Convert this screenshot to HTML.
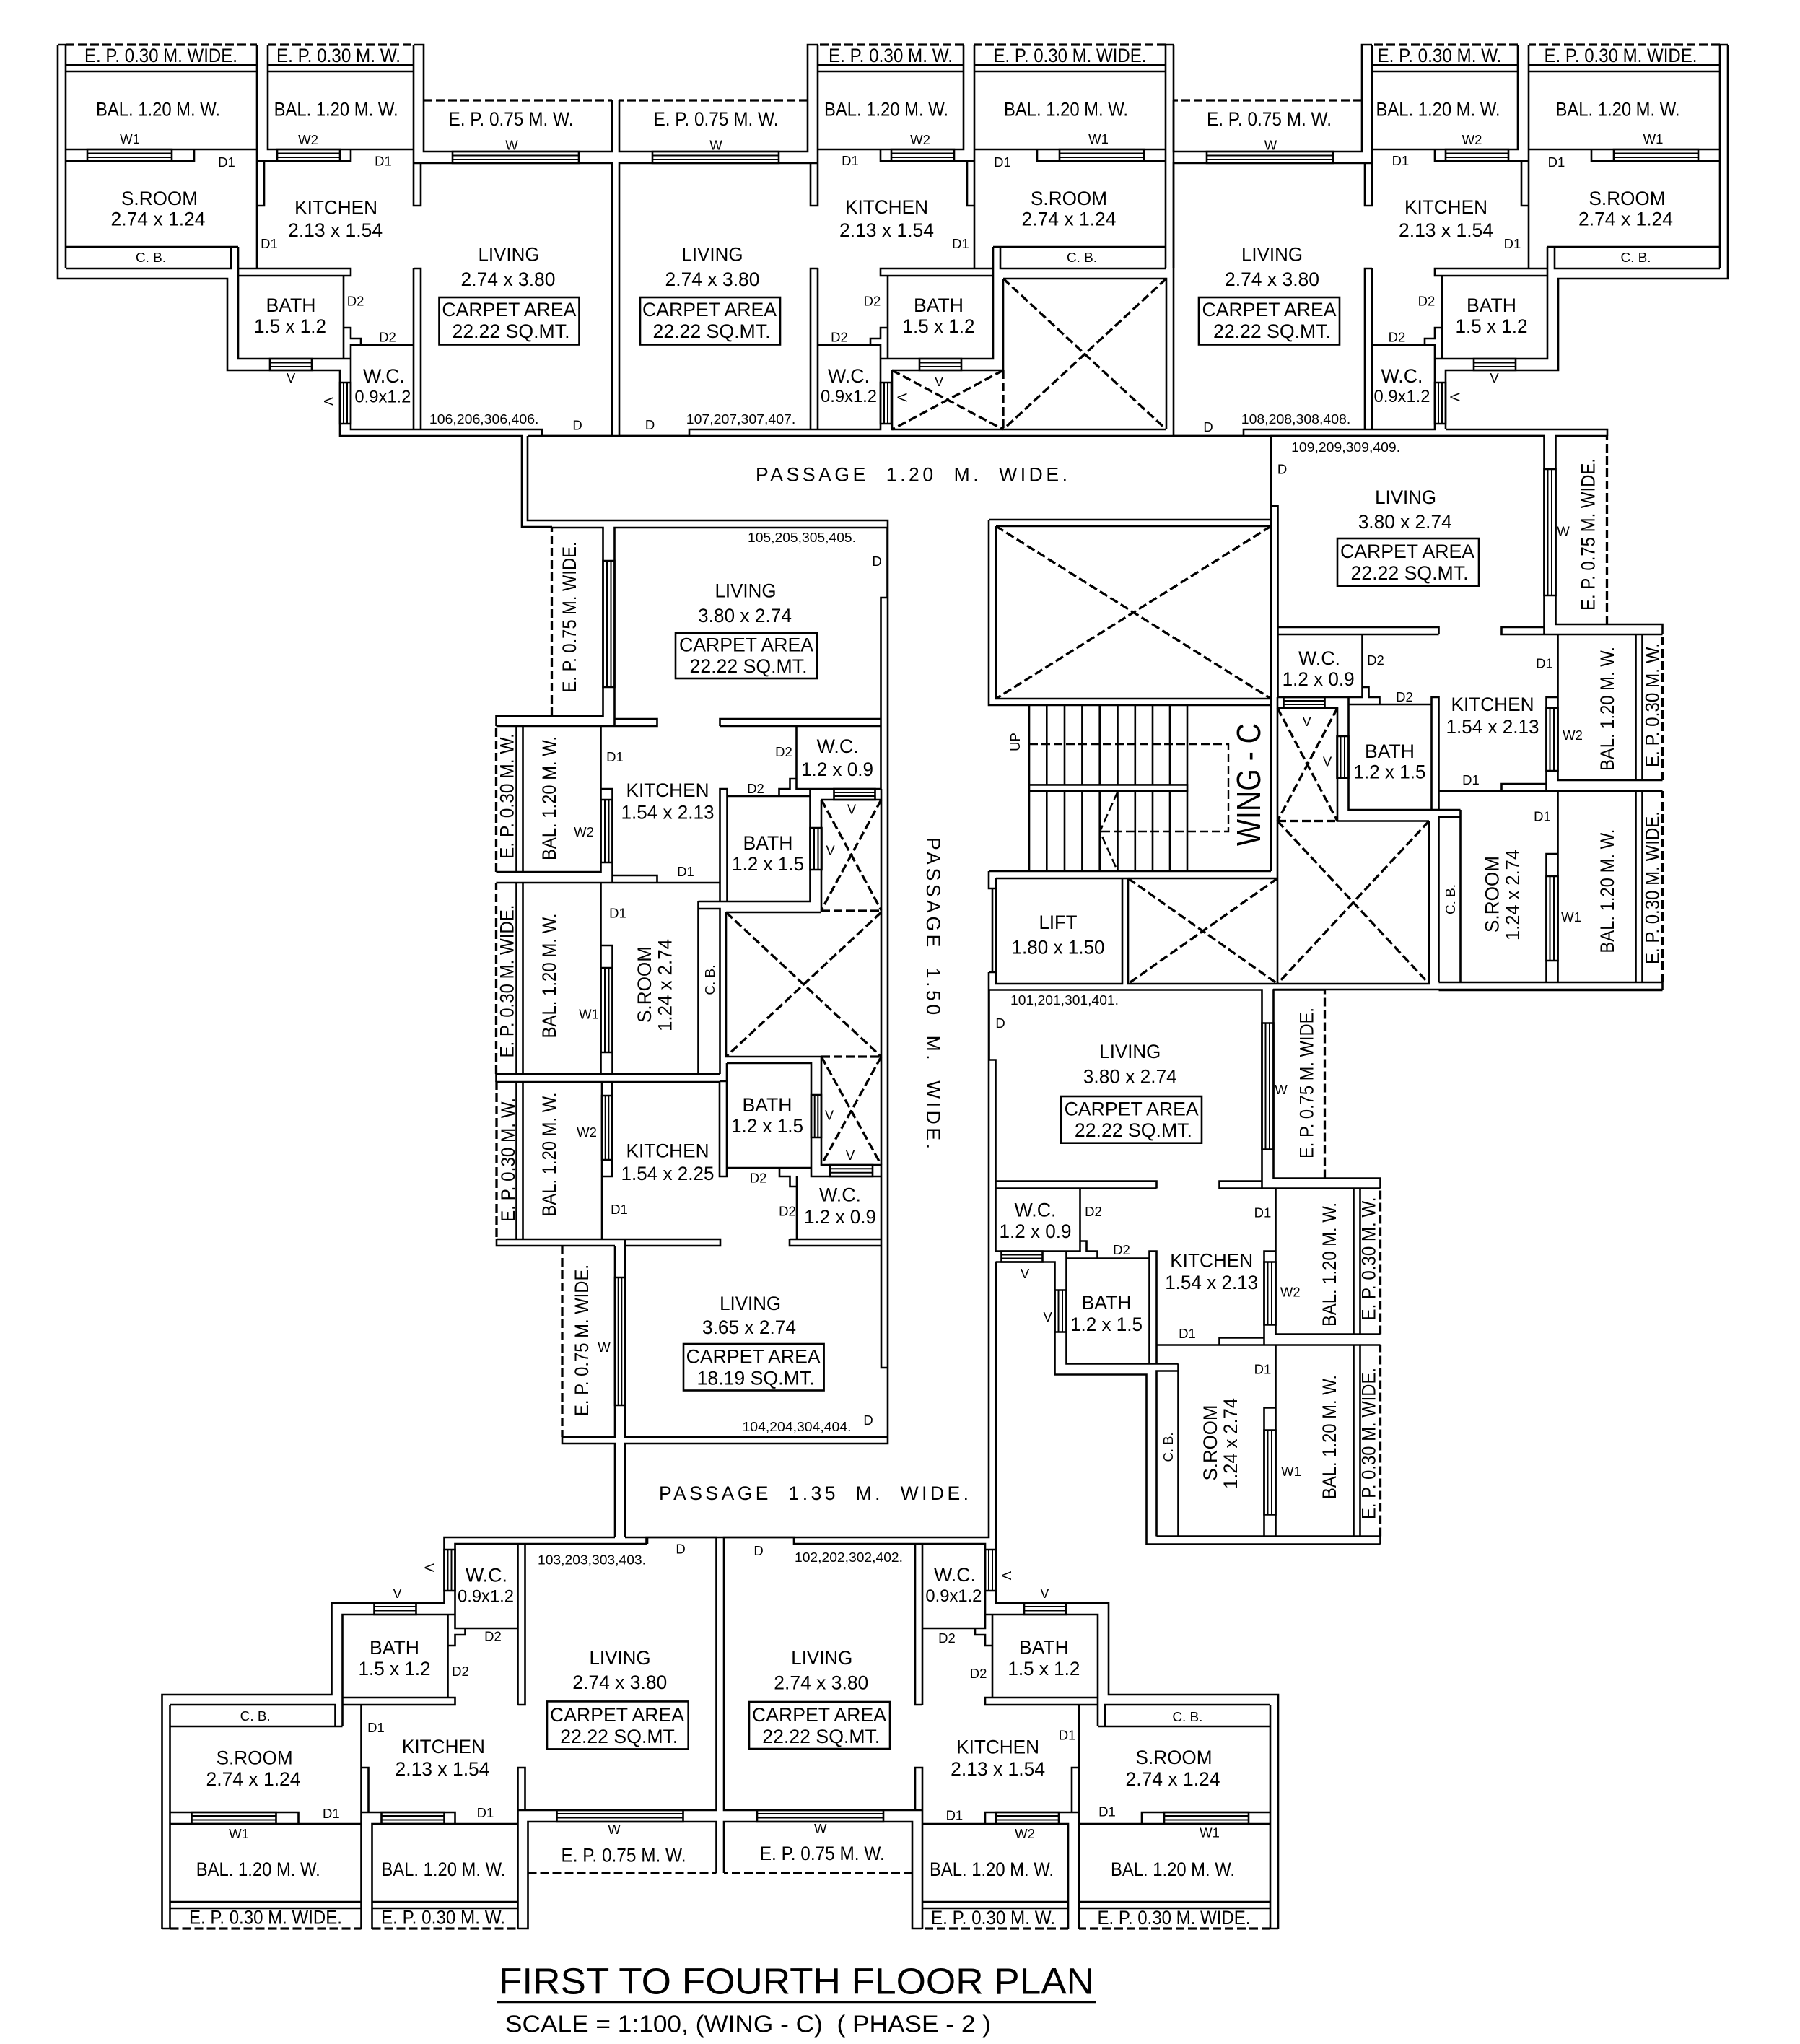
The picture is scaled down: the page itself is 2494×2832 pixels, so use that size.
<!DOCTYPE html>
<html><head><meta charset="utf-8"><title>First to Fourth Floor Plan</title>
<style>
html,body{margin:0;padding:0;background:#fff}
svg{display:block}
.w{fill:none;stroke:#000;stroke-width:2.6}
.f{fill:none;stroke:#000;stroke-width:2}
.d{fill:none;stroke:#000;stroke-width:3.3;stroke-dasharray:12 5}
text{font-family:"Liberation Sans",sans-serif;fill:#000;text-anchor:middle}
.l{font-size:26.5px}
.s{font-size:18.5px}
.n{font-size:18.5px}
</style></head><body>
<svg xmlns="http://www.w3.org/2000/svg" width="2494" height="2832" viewBox="0 0 2494 2832">
<rect width="2494" height="2832" fill="#fff"/>
<defs>
<g id="core">
<path class="w" d="M80 62V372M80 62H91M91 62V372M91 90H356M91 99H356M91 207H356M91 223H269V207M91 342H330M91 372H320V342M356 62V372M371 62V207H573M371 90H573M371 99H573M366 223V285H356M356 223H486V207M573 62H587V210H848V139M573 62V285H583V226M573 226H848V604H751V595H486V478H573M573 372H583V595M573 372V595M330 342V497H486M330 372H486V382H330M476 382V497M476 454H486V469H500V478"/>
<path class="w" d="M121 207H238V223H121ZM384 207H471V223H384ZM627 210H802V226H627ZM374 497H432V513H374ZM471 530H486V587H471Z"/>
<path class="f" d="M121 212.5H238M121 218H238M384 212.5H471M384 218H471M627 215.5H802M627 221H802M374 502.5H432M374 508H432M476 530V587M481 530V587"/>
<path class="d" d="M91 62H356M371 62H573M587 139H848"/>
</g>
<path id="outer" class="w" d="M80 372V386H315V513H471V595"/>
</defs>

<use href="#core"/><use href="#outer"/>
<use href="#core" transform="matrix(-1,0,0,1,1706,0)"/>
<use href="#core" transform="matrix(-1,0,0,1,2474,0)"/><use href="#outer" transform="matrix(-1,0,0,1,2474,0)"/>
<use href="#core" transform="matrix(0,-1,1,0,625.5,1579)"/>
<use href="#core" transform="matrix(0,-1,-1,0,2365.5,1452)"/>
<use href="#core" transform="matrix(0,-1,-1,0,1974.5,2219.5)"/><use href="#outer" transform="matrix(0,-1,-1,0,1974.5,2219.5)"/>
<use href="#core" transform="matrix(1,0,0,-1,144.5,2734)"/><use href="#outer" transform="matrix(1,0,0,-1,144.5,2734)"/>
<use href="#core" transform="matrix(-1,0,0,-1,1851,2734)"/><use href="#outer" transform="matrix(-1,0,0,-1,1851,2734)"/>

<!-- passage and connecting walls -->
<path class="w" d="M471 595V604H723V730H765M731 604V721H1230V2000H866V2130M731 604H2140M2003 595H2227V604M1370 1371V2130H866M852 2130H615.5V2139M866 2130H897V2139M1380 1748V2221M1764 1371H2303"/>
<!-- 107 shafts -->
<path class="w" d="M1236 513H1390M1236 513V595H1616M1390 386H1616V595M1390 386V513"/>
<path class="d" d="M1390 513V595M1236 513L1390 595M1390 513L1236 595M1390 386L1616 595M1616 386L1390 595"/>
<!-- top core shaft -->
<path class="w" d="M1370 720H1761M1370 720V977H1761M1380 729H1761M1380 729V968H1761M1761 604V1207M1370 1207H1761M1370 1207V1231H1380M1375 1231V1347M1370 1347H1380M1370 1347V1371M1380 1217H1770M1380 1217V1363H1555V1217M1563 1217V1363H1980V1137M1770 966V1363M1770 981H1853V1137.5H1980"/>
<path class="d" d="M1380 729L1761 968M1761 729L1380 968M1563 1217L1770 1363M1770 1217L1563 1363M1770 1137.5L1980 1363M1980 1137.5L1770 1363M1770 981L1853 1137.5M1853 981L1770 1137.5M1770 1137.5H1853"/>
<!-- stairs -->
<path class="w" d="M1426 977V1207M1450.3 977V1207M1475 977V1207M1499.4 977V1207M1523.7 977V1207M1548.5 977V1207M1572.8 977V1207M1597 977V1207M1621 977V1207M1645 977V1207M1426 1087.5H1645M1426 1096H1645"/>
<path d="M1426 1087.5H1645V1096H1426Z" fill="#fff" stroke="#000" stroke-width="2.6"/>
<path class="d" d="M1426 1031H1702V1152H1524M1548.5 1097L1524 1152L1548.5 1207" style="stroke-width:2.4"/>
<!-- 105 shafts -->
<path class="w" d="M1221 1093V1895H1230M1138 1108H1221M1138 1108V1264M1138 1464V1614H1221M1006 1264H1138M1006 1264V1464H1138"/>
<path class="d" d="M1138 1262H1221M1138 1464H1221M1138 1108L1221 1261M1221 1108L1138 1261M1006 1264L1221 1464M1221 1264L1006 1464M1138 1464L1221 1614M1221 1464L1138 1614"/>
<!-- 104 -->
<path class="w" d="M997 1498H1007M1007 1473V1630H997V1498M1007 1618H1124M1007 1473H1124V1630H1221M1080 1618V1630H1094.5V1644H1104M1104 1630V1717M1094 1717V1726H1221M1094 1717H1221M688 1717H998V1726H866M852 1726H688V1717M852 1726V1991H779V2000H852V2130M866 1717V1991H1230M834 1498V1717M848 1498V1630H834M715.5 1498V1717M724.5 1498V1717"/>
<path class="w" d="M834 1518H848V1607H834ZM1124 1517H1138V1576H1124ZM1150 1614H1209V1630H1150ZM852 1770H866V1947H852Z"/>
<path class="f" d="M838.7 1518V1607M843.3 1518V1607M1128.7 1517V1576M1133.3 1517V1576M1150 1619.3H1209M1150 1624.7H1209M856.7 1770V1947M861.3 1770V1947"/>
<path class="d" d="M688 1498V1717M779 1726V1991"/>

<!-- carpet boxes -->
<g class="w">
<rect x="608.5" y="412" width="194" height="65.5"/><rect x="887" y="412" width="194" height="65.5"/><rect x="1661" y="412" width="195" height="65.5"/>
<rect x="936" y="877" width="196" height="63"/><rect x="1853" y="746" width="196" height="65.7"/><rect x="1470" y="1519" width="195" height="64.7"/>
<rect x="947" y="1862" width="194.6" height="64.5"/><rect x="758" y="2357.4" width="195.7" height="66"/><rect x="1038" y="2358" width="195" height="65"/>
</g>

<!-- 106 -->
<g>
<text class="l" x="223" y="86" textLength="212" lengthAdjust="spacingAndGlyphs">E. P. 0.30 M. WIDE.</text>
<text class="l" x="469" y="86" textLength="172" lengthAdjust="spacingAndGlyphs">E. P. 0.30 M. W.</text>
<text class="l" x="219" y="160.5" textLength="172" lengthAdjust="spacingAndGlyphs">BAL. 1.20 M. W.</text>
<text class="l" x="465.6" y="160.5" textLength="172" lengthAdjust="spacingAndGlyphs">BAL. 1.20 M. W.</text>
<text class="l" x="708" y="174" textLength="173" lengthAdjust="spacingAndGlyphs">E. P. 0.75 M. W.</text>
<text class="s" x="180" y="199">W1</text><text class="s" x="427" y="200">W2</text><text class="s" x="709" y="207.6">W</text>
<text class="s" x="314" y="231">D1</text><text class="s" x="531" y="229.4">D1</text><text class="s" x="373" y="344">D1</text>
<text class="l" x="221" y="284" textLength="106" lengthAdjust="spacingAndGlyphs">S.ROOM</text>
<text class="l" x="219" y="312.5" textLength="131" lengthAdjust="spacingAndGlyphs">2.74 x 1.24</text>
<text class="l" x="465.6" y="296.4" textLength="115" lengthAdjust="spacingAndGlyphs">KITCHEN</text>
<text class="l" x="464.6" y="327.8" textLength="131" lengthAdjust="spacingAndGlyphs">2.13 x 1.54</text>
<text class="n" x="209" y="363" textLength="42" lengthAdjust="spacingAndGlyphs">C. B.</text>
<text class="l" x="705" y="361.5" textLength="85" lengthAdjust="spacingAndGlyphs">LIVING</text>
<text class="l" x="704" y="396" textLength="131" lengthAdjust="spacingAndGlyphs">2.74 x 3.80</text>
<text class="l" x="705.4" y="438" textLength="186" lengthAdjust="spacingAndGlyphs">CARPET AREA</text>
<text class="l" x="708" y="468" textLength="163" lengthAdjust="spacingAndGlyphs">22.22 SQ.MT.</text>
<text class="l" x="403" y="432" textLength="69" lengthAdjust="spacingAndGlyphs">BATH</text>
<text class="l" x="402" y="461" textLength="100" lengthAdjust="spacingAndGlyphs">1.5 x 1.2</text>
<text class="s" x="492.6" y="423.5">D2</text><text class="s" x="537" y="473.6">D2</text><text class="s" x="403" y="530">V</text>
<text class="l" x="532" y="530" textLength="58" lengthAdjust="spacingAndGlyphs">W.C.</text>
<text class="l" x="530.4" y="557.4" textLength="78" lengthAdjust="spacingAndGlyphs" style="font-size:24px">0.9x1.2</text>
<text class="s" transform="translate(449,556) rotate(90)">V</text>
<text class="n" x="670.7" y="587" textLength="151.5" lengthAdjust="spacingAndGlyphs">106,206,306,406.</text>
<text class="s" x="800" y="595.7">D</text>
</g>
<!-- 107 -->
<g transform="translate(3,0)">
<text class="l" x="1231" y="86" textLength="172" lengthAdjust="spacingAndGlyphs">E. P. 0.30 M. W.</text>
<text class="l" x="1479.5" y="86" textLength="212" lengthAdjust="spacingAndGlyphs">E. P. 0.30 M. WIDE.</text>
<text class="l" x="1225" y="160.5" textLength="172" lengthAdjust="spacingAndGlyphs">BAL. 1.20 M. W.</text>
<text class="l" x="1474" y="160.5" textLength="172" lengthAdjust="spacingAndGlyphs">BAL. 1.20 M. W.</text>
<text class="l" x="989" y="174" textLength="173" lengthAdjust="spacingAndGlyphs">E. P. 0.75 M. W.</text>
<text class="s" x="989" y="207.6">W</text><text class="s" x="1272" y="200">W2</text><text class="s" x="1519" y="199">W1</text>
<text class="s" x="1175" y="229">D1</text><text class="s" x="1386" y="231">D1</text><text class="s" x="1328" y="344">D1</text>
<text class="l" x="1478" y="284" textLength="106" lengthAdjust="spacingAndGlyphs">S.ROOM</text>
<text class="l" x="1478" y="312.5" textLength="131" lengthAdjust="spacingAndGlyphs">2.74 x 1.24</text>
<text class="l" x="1225.5" y="296" textLength="115" lengthAdjust="spacingAndGlyphs">KITCHEN</text>
<text class="l" x="1225.5" y="328" textLength="131" lengthAdjust="spacingAndGlyphs">2.13 x 1.54</text>
<text class="n" x="1496" y="363" textLength="42" lengthAdjust="spacingAndGlyphs">C. B.</text>
<text class="l" x="984" y="361.5" textLength="85" lengthAdjust="spacingAndGlyphs">LIVING</text>
<text class="l" x="984" y="396" textLength="131" lengthAdjust="spacingAndGlyphs">2.74 x 3.80</text>
<text class="l" x="980" y="438" textLength="186" lengthAdjust="spacingAndGlyphs">CARPET AREA</text>
<text class="l" x="983" y="468" textLength="163" lengthAdjust="spacingAndGlyphs">22.22 SQ.MT.</text>
<text class="l" x="1297.5" y="432" textLength="69" lengthAdjust="spacingAndGlyphs">BATH</text>
<text class="l" x="1297.5" y="461" textLength="100" lengthAdjust="spacingAndGlyphs">1.5 x 1.2</text>
<text class="s" x="1205.5" y="423.5">D2</text><text class="s" x="1160" y="473.6">D2</text>
<text class="l" x="1173" y="530" textLength="58" lengthAdjust="spacingAndGlyphs">W.C.</text>
<text class="l" x="1173" y="557" textLength="78" lengthAdjust="spacingAndGlyphs" style="font-size:24px">0.9x1.2</text>
<text class="s" transform="translate(1240.6,550.7) rotate(90)">V</text>
<text class="s" x="1298" y="535">V</text>
<text class="n" x="1023.5" y="587" textLength="151.5" lengthAdjust="spacingAndGlyphs">107,207,307,407.</text>
<text class="s" x="897.5" y="595">D</text>
</g>
<!-- 108 -->
<g transform="translate(3.5,0)">
<text class="l" x="1991" y="86" textLength="172" lengthAdjust="spacingAndGlyphs">E. P. 0.30 M. W.</text>
<text class="l" x="2242" y="86" textLength="212" lengthAdjust="spacingAndGlyphs">E. P. 0.30 M. WIDE.</text>
<text class="l" x="1989" y="160.5" textLength="172" lengthAdjust="spacingAndGlyphs">BAL. 1.20 M. W.</text>
<text class="l" x="2238" y="160.5" textLength="172" lengthAdjust="spacingAndGlyphs">BAL. 1.20 M. W.</text>
<text class="l" x="1755" y="174" textLength="173" lengthAdjust="spacingAndGlyphs">E. P. 0.75 M. W.</text>
<text class="s" x="1757" y="207.6">W</text><text class="s" x="2036" y="200">W2</text><text class="s" x="2287" y="199">W1</text>
<text class="s" x="1937" y="229">D1</text><text class="s" x="2153" y="231">D1</text><text class="s" x="2092" y="344">D1</text>
<text class="l" x="2251" y="284" textLength="106" lengthAdjust="spacingAndGlyphs">S.ROOM</text>
<text class="l" x="2249" y="312.5" textLength="131" lengthAdjust="spacingAndGlyphs">2.74 x 1.24</text>
<text class="l" x="2000" y="296" textLength="115" lengthAdjust="spacingAndGlyphs">KITCHEN</text>
<text class="l" x="2000" y="328" textLength="131" lengthAdjust="spacingAndGlyphs">2.13 x 1.54</text>
<text class="n" x="2263" y="363" textLength="42" lengthAdjust="spacingAndGlyphs">C. B.</text>
<text class="l" x="1759" y="361.5" textLength="85" lengthAdjust="spacingAndGlyphs">LIVING</text>
<text class="l" x="1759" y="396" textLength="131" lengthAdjust="spacingAndGlyphs">2.74 x 3.80</text>
<text class="l" x="1755" y="438" textLength="186" lengthAdjust="spacingAndGlyphs">CARPET AREA</text>
<text class="l" x="1759" y="468" textLength="163" lengthAdjust="spacingAndGlyphs">22.22 SQ.MT.</text>
<text class="l" x="2063" y="432" textLength="69" lengthAdjust="spacingAndGlyphs">BATH</text>
<text class="l" x="2063" y="461" textLength="100" lengthAdjust="spacingAndGlyphs">1.5 x 1.2</text>
<text class="s" x="1973" y="423.5">D2</text><text class="s" x="1932" y="473.6">D2</text>
<text class="l" x="1939" y="530" textLength="58" lengthAdjust="spacingAndGlyphs">W.C.</text>
<text class="l" x="1939" y="557" textLength="78" lengthAdjust="spacingAndGlyphs" style="font-size:24px">0.9x1.2</text>
<text class="s" transform="translate(2006,550) rotate(90)">V</text>
<text class="s" x="2067" y="530">V</text>
</g>
<text class="n" x="1795.5" y="587" textLength="151.5" lengthAdjust="spacingAndGlyphs">108,208,308,408.</text>
<text class="s" x="1674" y="598">D</text>
<!-- 105 -->
<g>
<text class="n" x="1111" y="751" textLength="150" lengthAdjust="spacingAndGlyphs">105,205,305,405.</text>
<text class="s" x="1215" y="784">D</text>
<text class="l" x="1033" y="827.5" textLength="85" lengthAdjust="spacingAndGlyphs">LIVING</text>
<text class="l" x="1032" y="862" textLength="130" lengthAdjust="spacingAndGlyphs">3.80 x 2.74</text>
<text class="l" x="1034" y="902.5" textLength="186" lengthAdjust="spacingAndGlyphs">CARPET AREA</text>
<text class="l" x="1037" y="932" textLength="163" lengthAdjust="spacingAndGlyphs">22.22 SQ.MT.</text>
<text class="l" transform="translate(798,855) rotate(-90)" textLength="209" lengthAdjust="spacingAndGlyphs">E. P. 0.75 M. WIDE.</text>
<text class="l" transform="translate(711.7,1103) rotate(-90)" textLength="174" lengthAdjust="spacingAndGlyphs">E. P. 0.30 M. W.</text>
<text class="l" transform="translate(770,1106) rotate(-90)" textLength="172" lengthAdjust="spacingAndGlyphs">BAL. 1.20 M. W.</text>
<text class="s" x="809" y="1159">W2</text><text class="s" x="852" y="1055">D1</text>
<text class="l" x="925" y="1104" textLength="115" lengthAdjust="spacingAndGlyphs">KITCHEN</text>
<text class="l" x="925" y="1134.7" textLength="129" lengthAdjust="spacingAndGlyphs">1.54 x 2.13</text>
<text class="s" x="1086" y="1048">D2</text><text class="s" x="1047" y="1099">D2</text>
<text class="l" x="1160.6" y="1043" textLength="58" lengthAdjust="spacingAndGlyphs">W.C.</text>
<text class="l" x="1160" y="1075" textLength="100" lengthAdjust="spacingAndGlyphs">1.2 x 0.9</text>
<text class="l" x="1064" y="1177" textLength="69" lengthAdjust="spacingAndGlyphs">BATH</text>
<text class="l" x="1064" y="1206" textLength="100" lengthAdjust="spacingAndGlyphs">1.2 x 1.5</text>
<text class="s" x="1180" y="1127.5">V</text><text class="s" x="1150.6" y="1184.7">V</text>
<text class="s" x="950" y="1213.8">D1</text><text class="s" x="856" y="1271.4">D1</text>
<text class="l" transform="translate(711.7,1359.5) rotate(-90)" textLength="212" lengthAdjust="spacingAndGlyphs">E. P. 0.30 M. WIDE.</text>
<text class="l" transform="translate(770,1352) rotate(-90)" textLength="173" lengthAdjust="spacingAndGlyphs">BAL. 1.20 M. W.</text>
<text class="s" x="816" y="1411.7">W1</text>
<text class="l" transform="translate(902,1364) rotate(-90)" textLength="106" lengthAdjust="spacingAndGlyphs">S.ROOM</text>
<text class="l" transform="translate(930.6,1365) rotate(-90)" textLength="128" lengthAdjust="spacingAndGlyphs">1.24 x 2.74</text>
<text class="n" transform="translate(990,1357.6) rotate(-90)" textLength="42" lengthAdjust="spacingAndGlyphs">C. B.</text>
</g>
<!-- 104 -->
<g>
<text class="l" transform="translate(713,1607) rotate(-90)" textLength="172" lengthAdjust="spacingAndGlyphs">E. P. 0.30 M. W.</text>
<text class="l" transform="translate(770,1599.5) rotate(-90)" textLength="172" lengthAdjust="spacingAndGlyphs">BAL. 1.20 M. W.</text>
<text class="s" x="813" y="1575">W2</text>
<text class="l" x="925" y="1603.7" textLength="115" lengthAdjust="spacingAndGlyphs">KITCHEN</text>
<text class="l" x="925" y="1635" textLength="129" lengthAdjust="spacingAndGlyphs">1.54 x 2.25</text>
<text class="s" x="858" y="1682">D1</text>
<text class="l" x="1063" y="1540" textLength="69" lengthAdjust="spacingAndGlyphs">BATH</text>
<text class="l" x="1063" y="1569" textLength="100" lengthAdjust="spacingAndGlyphs">1.2 x 1.5</text>
<text class="s" x="1149" y="1551.5">V</text><text class="s" x="1178" y="1607">V</text>
<text class="s" x="1050.6" y="1638.6">D2</text><text class="s" x="1091" y="1684.5">D2</text>
<text class="l" x="1164" y="1664.5" textLength="58" lengthAdjust="spacingAndGlyphs">W.C.</text>
<text class="l" x="1164" y="1695" textLength="100" lengthAdjust="spacingAndGlyphs">1.2 x 0.9</text>
<text class="l" transform="translate(815,1857) rotate(-90)" textLength="210" lengthAdjust="spacingAndGlyphs">E. P. 0.75 M. WIDE.</text>
<text class="s" x="837" y="1873">W</text>
<text class="l" x="1039.6" y="1815" textLength="85" lengthAdjust="spacingAndGlyphs">LIVING</text>
<text class="l" x="1038" y="1848" textLength="130" lengthAdjust="spacingAndGlyphs">3.65 x 2.74</text>
<text class="l" x="1043.7" y="1888.6" textLength="186" lengthAdjust="spacingAndGlyphs">CARPET AREA</text>
<text class="l" x="1047" y="1918.5" textLength="163" lengthAdjust="spacingAndGlyphs">18.19 SQ.MT.</text>
<text class="n" x="1104" y="1983" textLength="151" lengthAdjust="spacingAndGlyphs">104,204,304,404.</text>
<text class="s" x="1203" y="1974">D</text>
</g>
<!-- 109 -->
<g>
<text class="n" x="1864.6" y="626" textLength="151" lengthAdjust="spacingAndGlyphs">109,209,309,409.</text>
<text class="s" x="1776.6" y="656.7">D</text>
<text class="l" x="1947.6" y="698" textLength="85" lengthAdjust="spacingAndGlyphs">LIVING</text>
<text class="l" x="1946.7" y="732" textLength="130" lengthAdjust="spacingAndGlyphs">3.80 x 2.74</text>
<text class="l" x="1950" y="773" textLength="186" lengthAdjust="spacingAndGlyphs">CARPET AREA</text>
<text class="l" x="1953" y="803" textLength="163" lengthAdjust="spacingAndGlyphs">22.22 SQ.MT.</text>
<text class="l" transform="translate(2209.6,740.5) rotate(-90)" textLength="211" lengthAdjust="spacingAndGlyphs">E. P. 0.75 M. WIDE.</text>
<text class="s" x="2166" y="742.7">W</text>
<text class="l" x="1828" y="921" textLength="58" lengthAdjust="spacingAndGlyphs">W.C.</text>
<text class="l" x="1826.6" y="950" textLength="100" lengthAdjust="spacingAndGlyphs">1.2 x 0.9</text>
<text class="s" x="1906" y="921">D2</text><text class="s" x="1946" y="972">D2</text><text class="s" x="2140" y="925.4">D1</text>
<text class="l" x="2068" y="985" textLength="115" lengthAdjust="spacingAndGlyphs">KITCHEN</text>
<text class="l" x="2068" y="1016" textLength="129" lengthAdjust="spacingAndGlyphs">1.54 x 2.13</text>
<text class="s" x="2179" y="1025">W2</text>
<text class="l" transform="translate(2236,982) rotate(-90)" textLength="172" lengthAdjust="spacingAndGlyphs">BAL. 1.20 M. W.</text>
<text class="l" transform="translate(2298.6,977) rotate(-90)" textLength="172" lengthAdjust="spacingAndGlyphs">E. P. 0.30 M. W.</text>
<text class="s" x="1810.7" y="1006">V</text><text class="s" x="1839" y="1061.6">V</text>
<text class="l" x="1925.5" y="1050" textLength="69" lengthAdjust="spacingAndGlyphs">BATH</text>
<text class="l" x="1925.5" y="1078.6" textLength="100" lengthAdjust="spacingAndGlyphs">1.2 x 1.5</text>
<text class="s" x="2038" y="1087">D1</text><text class="s" x="2137" y="1137.5">D1</text>
<text class="l" transform="translate(2076.6,1239) rotate(-90)" textLength="106" lengthAdjust="spacingAndGlyphs">S.ROOM</text>
<text class="l" transform="translate(2105,1240) rotate(-90)" textLength="126" lengthAdjust="spacingAndGlyphs">1.24 x 2.74</text>
<text class="n" transform="translate(2016,1246) rotate(-90)" textLength="42" lengthAdjust="spacingAndGlyphs">C. B.</text>
<text class="s" x="2177" y="1277">W1</text>
<text class="l" transform="translate(2236,1234.6) rotate(-90)" textLength="172" lengthAdjust="spacingAndGlyphs">BAL. 1.20 M. W.</text>
<text class="l" transform="translate(2298.6,1230) rotate(-90)" textLength="212" lengthAdjust="spacingAndGlyphs">E. P. 0.30 M. WIDE.</text>
<text class="s" transform="translate(1413,1028) rotate(-90)">UP</text>
<text transform="translate(1746,1087) rotate(-90)" style="font-size:46px" textLength="170" lengthAdjust="spacingAndGlyphs">WING - C</text>
<text class="l" x="1466" y="1287" textLength="53" lengthAdjust="spacingAndGlyphs">LIFT</text>
<text class="l" x="1466" y="1321.4" textLength="129" lengthAdjust="spacingAndGlyphs">1.80 x 1.50</text>
</g>
<!-- 101 -->
<g>
<text class="n" x="1475" y="1392" textLength="150" lengthAdjust="spacingAndGlyphs">101,201,301,401.</text>
<text class="s" x="1386" y="1424">D</text>
<text class="l" x="1565.8" y="1466" textLength="85" lengthAdjust="spacingAndGlyphs">LIVING</text>
<text class="l" x="1565.8" y="1500.5" textLength="130" lengthAdjust="spacingAndGlyphs">3.80 x 2.74</text>
<text class="l" x="1567.7" y="1545.4" textLength="186" lengthAdjust="spacingAndGlyphs">CARPET AREA</text>
<text class="l" x="1570.4" y="1575" textLength="163" lengthAdjust="spacingAndGlyphs">22.22 SQ.MT.</text>
<text class="s" x="1775" y="1516">W</text>
<text class="l" transform="translate(1819.5,1500.5) rotate(-90)" textLength="209" lengthAdjust="spacingAndGlyphs">E. P. 0.75 M. WIDE.</text>
<text class="s" x="1749.5" y="1686.7">D1</text>
<text class="l" transform="translate(1851,1752) rotate(-90)" textLength="172" lengthAdjust="spacingAndGlyphs">BAL. 1.20 M. W.</text>
<text class="l" transform="translate(1905.6,1744) rotate(-90)" textLength="171" lengthAdjust="spacingAndGlyphs">E. P. 0.30 M. W.</text>
<text class="l" x="1434.5" y="1685.7" textLength="58" lengthAdjust="spacingAndGlyphs">W.C.</text>
<text class="l" x="1434.5" y="1714.8" textLength="100" lengthAdjust="spacingAndGlyphs">1.2 x 0.9</text>
<text class="s" x="1515" y="1685">D2</text><text class="s" x="1554" y="1737.8">D2</text>
<text class="l" x="1678.7" y="1755.6" textLength="115" lengthAdjust="spacingAndGlyphs">KITCHEN</text>
<text class="l" x="1678.7" y="1786" textLength="129" lengthAdjust="spacingAndGlyphs">1.54 x 2.13</text>
<text class="s" x="1787.8" y="1796.4">W2</text>
<text class="s" x="1420" y="1771">V</text><text class="s" x="1451.7" y="1831">V</text>
<text class="l" x="1533" y="1814" textLength="69" lengthAdjust="spacingAndGlyphs">BATH</text>
<text class="l" x="1533" y="1844" textLength="100" lengthAdjust="spacingAndGlyphs">1.2 x 1.5</text>
<text class="s" x="1645" y="1854">D1</text><text class="s" x="1749.5" y="1903.6">D1</text>
<text class="l" transform="translate(1686,1999) rotate(-90)" textLength="105" lengthAdjust="spacingAndGlyphs">S.ROOM</text>
<text class="l" transform="translate(1714,2000) rotate(-90)" textLength="126" lengthAdjust="spacingAndGlyphs">1.24 x 2.74</text>
<text class="n" transform="translate(1625,2005) rotate(-90)" textLength="41" lengthAdjust="spacingAndGlyphs">C. B.</text>
<text class="s" x="1789" y="2045">W1</text>
<text class="l" transform="translate(1851,1991) rotate(-90)" textLength="172" lengthAdjust="spacingAndGlyphs">BAL. 1.20 M. W.</text>
<text class="l" transform="translate(1905.6,2000) rotate(-90)" textLength="210" lengthAdjust="spacingAndGlyphs">E. P. 0.30 M. WIDE.</text>
</g>
<!-- 103 -->
<g>
<text class="n" x="820" y="2167.5" textLength="150" lengthAdjust="spacingAndGlyphs">103,203,303,403.</text>
<text class="s" x="943" y="2152.6">D</text>
<text class="s" transform="translate(588.4,2172) rotate(90)">V</text>
<text class="l" x="674" y="2191.7" textLength="58" lengthAdjust="spacingAndGlyphs">W.C.</text>
<text class="l" x="673" y="2219.6" textLength="78" lengthAdjust="spacingAndGlyphs" style="font-size:24px">0.9x1.2</text>
<text class="s" x="550.6" y="2214">V</text>
<text class="l" x="546.5" y="2291.8" textLength="69" lengthAdjust="spacingAndGlyphs">BATH</text>
<text class="l" x="546.5" y="2321" textLength="100" lengthAdjust="spacingAndGlyphs">1.5 x 1.2</text>
<text class="s" x="683" y="2273.6">D2</text><text class="s" x="638" y="2322">D2</text>
<text class="l" x="859" y="2305.8" textLength="85" lengthAdjust="spacingAndGlyphs">LIVING</text>
<text class="l" x="858.8" y="2339.8" textLength="131" lengthAdjust="spacingAndGlyphs">2.74 x 3.80</text>
<text class="l" x="855" y="2385" textLength="186" lengthAdjust="spacingAndGlyphs">CARPET AREA</text>
<text class="l" x="857.8" y="2415" textLength="163" lengthAdjust="spacingAndGlyphs">22.22 SQ.MT.</text>
<text class="n" x="353.7" y="2384" textLength="42" lengthAdjust="spacingAndGlyphs">C. B.</text>
<text class="s" x="521" y="2400">D1</text>
<text class="l" x="614.4" y="2429" textLength="115" lengthAdjust="spacingAndGlyphs">KITCHEN</text>
<text class="l" x="613" y="2460" textLength="131" lengthAdjust="spacingAndGlyphs">2.13 x 1.54</text>
<text class="l" x="352.6" y="2444.5" textLength="106" lengthAdjust="spacingAndGlyphs">S.ROOM</text>
<text class="l" x="351" y="2473.8" textLength="131" lengthAdjust="spacingAndGlyphs">2.74 x 1.24</text>
<text class="s" x="458.8" y="2519">D1</text><text class="s" x="672.5" y="2518">D1</text>
<text class="s" x="331" y="2547">W1</text><text class="s" x="851" y="2541">W</text>
<text class="l" x="357.8" y="2599" textLength="172" lengthAdjust="spacingAndGlyphs">BAL. 1.20 M. W.</text>
<text class="l" x="614.4" y="2599" textLength="172" lengthAdjust="spacingAndGlyphs">BAL. 1.20 M. W.</text>
<text class="l" x="864" y="2579.5" textLength="173" lengthAdjust="spacingAndGlyphs">E. P. 0.75 M. W.</text>
<text class="l" x="368" y="2665.6" textLength="212" lengthAdjust="spacingAndGlyphs">E. P. 0.30 M. WIDE.</text>
<text class="l" x="614" y="2665.6" textLength="172" lengthAdjust="spacingAndGlyphs">E. P. 0.30 M. W.</text>
</g>
<!-- 102 -->
<g>
<text class="s" x="1051" y="2155">D</text>
<text class="n" x="1176" y="2164" textLength="150" lengthAdjust="spacingAndGlyphs">102,202,302,402.</text>
<text class="l" x="1323" y="2191" textLength="58" lengthAdjust="spacingAndGlyphs">W.C.</text>
<text class="l" x="1321.4" y="2218.8" textLength="78" lengthAdjust="spacingAndGlyphs" style="font-size:24px">0.9x1.2</text>
<text class="s" transform="translate(1387.8,2183) rotate(90)">V</text>
<text class="s" x="1447.4" y="2214">V</text>
<text class="l" x="1446.4" y="2291.5" textLength="69" lengthAdjust="spacingAndGlyphs">BATH</text>
<text class="l" x="1446.4" y="2321" textLength="100" lengthAdjust="spacingAndGlyphs">1.5 x 1.2</text>
<text class="s" x="1312" y="2276">D2</text><text class="s" x="1355.6" y="2325">D2</text>
<text class="l" x="1138.8" y="2305.8" textLength="85" lengthAdjust="spacingAndGlyphs">LIVING</text>
<text class="l" x="1137.8" y="2340.6" textLength="131" lengthAdjust="spacingAndGlyphs">2.74 x 3.80</text>
<text class="l" x="1135" y="2384.8" textLength="186" lengthAdjust="spacingAndGlyphs">CARPET AREA</text>
<text class="l" x="1137.8" y="2415" textLength="163" lengthAdjust="spacingAndGlyphs">22.22 SQ.MT.</text>
<text class="n" x="1645.4" y="2384.8" textLength="42" lengthAdjust="spacingAndGlyphs">C. B.</text>
<text class="s" x="1478.6" y="2410.7">D1</text>
<text class="l" x="1382.6" y="2429.5" textLength="115" lengthAdjust="spacingAndGlyphs">KITCHEN</text>
<text class="l" x="1382.6" y="2460" textLength="131" lengthAdjust="spacingAndGlyphs">2.13 x 1.54</text>
<text class="l" x="1626.5" y="2444" textLength="106" lengthAdjust="spacingAndGlyphs">S.ROOM</text>
<text class="l" x="1625" y="2474" textLength="131" lengthAdjust="spacingAndGlyphs">2.74 x 1.24</text>
<text class="s" x="1322.4" y="2521.4">D1</text><text class="s" x="1534" y="2516.5">D1</text>
<text class="s" x="1136.7" y="2540">W</text><text class="s" x="1420" y="2547">W2</text><text class="s" x="1676" y="2545.5">W1</text>
<text class="l" x="1374" y="2599" textLength="172" lengthAdjust="spacingAndGlyphs">BAL. 1.20 M. W.</text>
<text class="l" x="1625" y="2599" textLength="172" lengthAdjust="spacingAndGlyphs">BAL. 1.20 M. W.</text>
<text class="l" x="1139.3" y="2576.8" textLength="173" lengthAdjust="spacingAndGlyphs">E. P. 0.75 M. W.</text>
<text class="l" x="1376" y="2666" textLength="172" lengthAdjust="spacingAndGlyphs">E. P. 0.30 M. W.</text>
<text class="l" x="1626.5" y="2666" textLength="212" lengthAdjust="spacingAndGlyphs">E. P. 0.30 M. WIDE.</text>
</g>
<!-- passages -->
<text class="l" x="1263" y="666.7" textLength="432" lengthAdjust="spacing">PASSAGE&#160;&#160;1.20&#160;&#160;M.&#160;&#160;WIDE.</text>
<text class="l" x="1127.5" y="2078" textLength="429" lengthAdjust="spacing">PASSAGE&#160;&#160;1.35&#160;&#160;M.&#160;&#160;WIDE.</text>
<text class="l" transform="translate(1284,1376) rotate(90)" textLength="432" lengthAdjust="spacing">PASSAGE&#160;&#160;1.50&#160;&#160;M.&#160;&#160;WIDE.</text>
<!-- title -->
<text x="691" y="2762.5" style="font-size:50.7px;text-anchor:start" textLength="825" lengthAdjust="spacingAndGlyphs">FIRST TO FOURTH FLOOR PLAN</text>
<path class="w" d="M689 2774H1519"/>
<text x="700" y="2815.5" style="font-size:33.7px;text-anchor:start" textLength="673" lengthAdjust="spacingAndGlyphs">SCALE = 1:100, (WING - C)&#160;&#160;( PHASE - 2 )</text>
</svg>
</body></html>
